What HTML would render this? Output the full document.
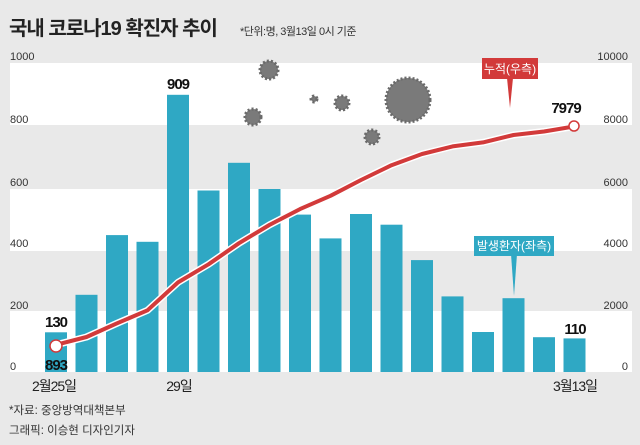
<!DOCTYPE html>
<html><head><meta charset="utf-8"><style>
body{margin:0;background:#e9e9e9;}
svg{display:block;font-family:"Liberation Sans","Noto Sans CJK KR",sans-serif;}
</style></head><body>
<svg width="640" height="445" viewBox="0 0 640 445">
<rect width="640" height="445" fill="#e9e9e9"/>
<text x="9" y="35" font-size="20" font-weight="bold" fill="#222" letter-spacing="-1">국내 코로나19 확진자 추이</text>
<text x="240" y="35" font-size="11" fill="#333" letter-spacing="-0.5">*단위:명, 3월13일 0시 기준</text>
<!-- bands -->
<rect x="10" y="63" width="622" height="62" fill="#fff"/>
<rect x="10" y="189" width="622" height="62" fill="#fff"/>
<rect x="10" y="311" width="622" height="61" fill="#fff"/>
<g font-size="11" fill="#333">
<text x="10" y="60">1000</text><text x="10" y="123">800</text><text x="10" y="186">600</text><text x="10" y="247">400</text><text x="10" y="309">200</text><text x="10" y="370">0</text>
<text x="628" y="60" text-anchor="end">10000</text><text x="628" y="123" text-anchor="end">8000</text><text x="628" y="186" text-anchor="end">6000</text><text x="628" y="247" text-anchor="end">4000</text><text x="628" y="309" text-anchor="end">2000</text><text x="628" y="370" text-anchor="end">0</text>
</g>
<!-- viruses -->
<g fill="#7a7a7a" stroke="#6a6a6a" stroke-width="3" stroke-dasharray="2 2">
<circle cx="269" cy="70" r="9"/><circle cx="408" cy="100" r="22"/><circle cx="342" cy="103" r="7"/><circle cx="314" cy="99" r="3"/><circle cx="253" cy="117" r="8"/><circle cx="372" cy="137" r="7"/>
</g>
<g fill="#2fa8c4">
<rect x="45" y="332.3" width="22" height="39.7"/>
<rect x="75.5" y="294.8" width="22" height="77.2"/>
<rect x="106" y="235.1" width="22" height="136.9"/>
<rect x="136.5" y="241.8" width="22" height="130.2"/>
<rect x="167" y="94.8" width="22" height="277.2"/>
<rect x="197.5" y="190.5" width="22" height="181.5"/>
<rect x="228" y="162.8" width="22" height="209.2"/>
<rect x="258.5" y="189" width="22" height="183"/>
<rect x="289" y="214.6" width="22" height="157.4"/>
<rect x="319.5" y="238.4" width="22" height="133.6"/>
<rect x="350" y="214" width="22" height="158"/>
<rect x="380.5" y="224.7" width="22" height="147.3"/>
<rect x="411" y="260.1" width="22" height="111.9"/>
<rect x="441.5" y="296.4" width="22" height="75.6"/>
<rect x="472" y="332" width="22" height="40"/>
<rect x="502.5" y="298.2" width="22" height="73.8"/>
<rect x="533" y="337.2" width="22" height="34.8"/>
<rect x="563.5" y="338.4" width="22" height="33.6"/>
</g>
<polyline fill="none" stroke="#fff" stroke-width="7" stroke-linejoin="round" points="56,344.8 86.5,337.0 117,323.3 147.5,310.3 178,282.4 208.5,264.3 239,243.2 269.5,224.9 300,209.1 330.5,195.8 361,180.0 391.5,165.2 422,154.0 452.5,146.4 483,142.4 513.5,135.0 544,131.5 574.5,126.4"/>
<polyline fill="none" stroke="#d23a3a" stroke-width="4" stroke-linejoin="round" points="56,344.8 86.5,337.0 117,323.3 147.5,310.3 178,282.4 208.5,264.3 239,243.2 269.5,224.9 300,209.1 330.5,195.8 361,180.0 391.5,165.2 422,154.0 452.5,146.4 483,142.4 513.5,135.0 544,131.5 574.5,126.4"/>
<circle cx="56" cy="346" r="6" fill="#fff" stroke="#d23a3a" stroke-width="1.5"/>
<circle cx="574" cy="126" r="5" fill="#fff" stroke="#d23a3a" stroke-width="1.5"/>
<g font-weight="bold" font-size="15" fill="#111" text-anchor="middle" letter-spacing="-1">
<text x="56" y="327">130</text><text x="56" y="370">893</text><text x="178" y="89">909</text><text x="575" y="334">110</text><text x="566" y="113">7979</text>
</g>
<!-- callouts -->
<polygon points="507,78 513,78 510,108" fill="#d23a3a"/>
<rect x="482" y="58" width="56" height="21" fill="#d23a3a"/>
<text x="510" y="73" font-size="12" fill="#fff" text-anchor="middle">누적(우측)</text>
<polygon points="511,254 517,254 514,296" fill="#2fa8c4"/>
<rect x="474" y="236" width="80" height="20" fill="#2fa8c4"/>
<text x="514" y="250" font-size="12" fill="#fff" text-anchor="middle">발생환자(좌측)</text>
<g font-size="14" fill="#222" text-anchor="middle" letter-spacing="-1">
<text x="54" y="391">2월25일</text><text x="179" y="391">29일</text><text x="575" y="391">3월13일</text>
</g>
<text x="9" y="414" font-size="11.5" fill="#333">*자료: 중앙방역대책본부</text>
<text x="9" y="434" font-size="11.5" fill="#333">그래픽: 이승현 디자인기자</text>
</svg>
</body></html>
